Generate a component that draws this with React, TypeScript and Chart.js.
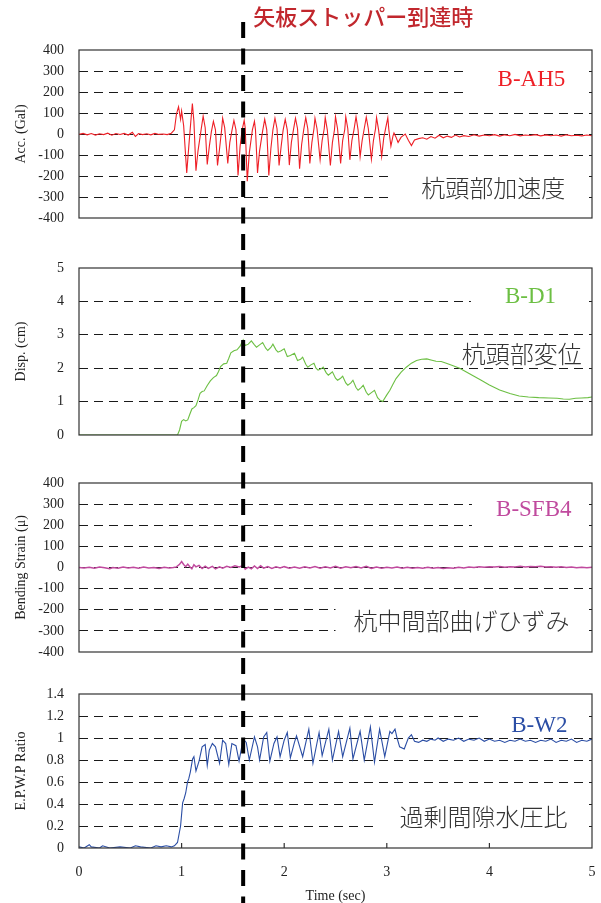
import React, { useEffect, useRef } from 'react';
import { Chart, registerables } from 'chart.js';

Chart.register(...registerables);

// ---------------- data ----------------
const accTime = [
  0.00, 0.04, 0.08, 0.12, 0.16, 0.20, 0.24, 0.28, 0.32, 0.36, 0.40, 0.44, 0.48, 0.52, 0.55, 0.58, 0.62, 0.66, 0.70, 0.74,
  0.78, 0.82, 0.86, 0.90, 0.93, 0.95, 0.97, 0.99, 1.00, 1.02, 1.05, 1.07, 1.09, 1.105, 1.12, 1.14, 1.16, 1.19, 1.21, 1.23,
  1.25, 1.27, 1.29, 1.31, 1.33, 1.35, 1.37, 1.39, 1.40, 1.42, 1.45, 1.47, 1.49, 1.51, 1.53, 1.55, 1.57, 1.59, 1.61, 1.62,
  1.64, 1.66, 1.69, 1.71, 1.72, 1.74, 1.76, 1.79, 1.81, 1.83, 1.85, 1.87, 1.89, 1.91, 1.93, 1.95, 1.97, 1.99, 2.01, 2.03,
  2.05, 2.07, 2.09, 2.11, 2.13, 2.15, 2.17, 2.19, 2.21, 2.23, 2.25, 2.27, 2.29, 2.30, 2.32, 2.35, 2.37, 2.39, 2.40, 2.42,
  2.45, 2.47, 2.49, 2.50, 2.52, 2.55, 2.57, 2.59, 2.60, 2.62, 2.64, 2.66, 2.68, 2.70, 2.72, 2.74, 2.76, 2.78, 2.80, 2.82,
  2.85, 2.87, 2.89, 2.90, 2.92, 2.95, 2.97, 2.99, 3.01, 3.02, 3.04, 3.06, 3.07, 3.09, 3.11, 3.14, 3.18, 3.21, 3.24, 3.27,
  3.31, 3.35, 3.39, 3.43, 3.47, 3.51, 3.55, 3.59, 3.63, 3.67, 3.71, 3.75, 3.80, 3.85, 3.90, 3.95, 4.00, 4.05, 4.10, 4.15,
  4.20, 4.25, 4.30, 4.35, 4.40, 4.45, 4.50, 4.55, 4.60, 4.65, 4.70, 4.75, 4.80, 4.85, 4.90, 4.95, 5.00,
];
const accValues = [
  -2, 3, -4, 2, -5, 1, -3, 4, -6, 2, -2, 3, -5, 8, -12, 2, -3, 1, -4, 3,
  -2, 0, -3, 4, 20, 95, 130, 70, 110, 40, -185, -60, 60, 145, 60, -175, -80, 20, 85, 30,
  -145, -60, 10, 60, 20, -150, -70, 20, 75, 30, -140, -40, 15, 65, 20, -198, -60, 20, 65, 30,
  -225, -90, 20, 60, 20, -185, -80, 15, 70, 20, -198, -70, 20, 75, 25, -150, -60, 20, 70, 20,
  -148, -40, 20, 75, 25, -165, -50, 20, 78, 25, -140, -40, 25, 75, 25, -123, -30, 25, 78, 20,
  -150, -40, 20, 82, 25, -140, -30, 20, 82, 25, -123, -30, 20, 82, 20, -108, -30, 25, 80, 25,
  -120, -30, 25, 78, 20, -108, -20, 30, 77, 20, -58, -10, 5, -15, -40, -15, 0, -30, -55, -28,
  -22, -18, -25, -12, -20, -6, -18, -10, -16, -5, -14, -8, -12, -4, -10, -5, -8, -3, -10, -4,
  -8, -2, -9, -5, -7, -3, -9, -4, -8, -5, -10, -4, -8, -6, -9, -5, -8,
];

const dispTime = [
  0.00, 0.50, 0.96, 0.98, 1.00, 1.02, 1.04, 1.06, 1.08, 1.10, 1.12, 1.14, 1.16, 1.18, 1.20, 1.22, 1.25, 1.28, 1.31, 1.34,
  1.36, 1.38, 1.41, 1.44, 1.46, 1.48, 1.51, 1.54, 1.57, 1.60, 1.62, 1.65, 1.68, 1.71, 1.73, 1.76, 1.79, 1.82, 1.84, 1.87,
  1.89, 1.92, 1.94, 1.97, 2.00, 2.03, 2.06, 2.10, 2.13, 2.16, 2.18, 2.21, 2.23, 2.26, 2.29, 2.31, 2.33, 2.36, 2.38, 2.41,
  2.43, 2.45, 2.47, 2.50, 2.52, 2.55, 2.57, 2.60, 2.62, 2.65, 2.67, 2.70, 2.72, 2.75, 2.77, 2.80, 2.82, 2.85, 2.88, 2.91,
  2.93, 2.96, 3.00, 3.03, 3.06, 3.09, 3.14, 3.19, 3.24, 3.29, 3.34, 3.39, 3.44, 3.48, 3.53, 3.58, 3.64, 3.71, 3.78, 3.85,
  3.92, 4.00, 4.10, 4.20, 4.29, 4.38, 4.48, 4.58, 4.66, 4.72, 4.78, 4.84, 4.90, 4.96, 5.00,
];
const dispValues = [
  0, 0, 0, 0.15, 0.41, 0.46, 0.42, 0.45, 0.62, 0.78, 0.82, 0.88, 1.05, 1.25, 1.30, 1.32, 1.48, 1.62, 1.72, 1.78,
  1.90, 2.05, 2.13, 2.15, 2.30, 2.46, 2.52, 2.55, 2.66, 2.85, 2.68, 2.72, 2.82, 2.70, 2.63, 2.70, 2.77, 2.60, 2.53, 2.62,
  2.72, 2.55, 2.48, 2.52, 2.58, 2.35, 2.38, 2.45, 2.23, 2.27, 2.33, 2.12, 2.03, 2.10, 2.15, 2.00, 1.94, 1.98, 2.03, 1.86,
  1.79, 1.84, 1.89, 1.70, 1.64, 1.70, 1.76, 1.56, 1.49, 1.56, 1.64, 1.42, 1.34, 1.42, 1.49, 1.28, 1.20, 1.27, 1.34, 1.12,
  1.05, 1.00, 1.20, 1.34, 1.52, 1.69, 1.88, 2.03, 2.15, 2.23, 2.27, 2.28, 2.24, 2.21, 2.20, 2.15, 2.08, 2.00, 1.88, 1.76,
  1.64, 1.50, 1.35, 1.24, 1.17, 1.14, 1.12, 1.11, 1.10, 1.08, 1.07, 1.10, 1.11, 1.12, 1.14,
];

const strainTime = [
  0.00, 0.05, 0.10, 0.15, 0.20, 0.25, 0.30, 0.33, 0.38, 0.43, 0.48, 0.53, 0.58, 0.63, 0.68, 0.73, 0.78, 0.83, 0.88, 0.92,
  0.95, 0.98, 1.00, 1.02, 1.04, 1.06, 1.08, 1.10, 1.12, 1.14, 1.17, 1.20, 1.23, 1.26, 1.30, 1.33, 1.37, 1.40, 1.44, 1.48,
  1.52, 1.56, 1.60, 1.62, 1.65, 1.68, 1.71, 1.74, 1.77, 1.80, 1.84, 1.88, 1.92, 1.96, 2.00, 2.05, 2.10, 2.15, 2.20, 2.25,
  2.30, 2.35, 2.40, 2.45, 2.50, 2.55, 2.60, 2.65, 2.70, 2.75, 2.80, 2.85, 2.90, 2.95, 3.00, 3.05, 3.10, 3.15, 3.20, 3.25,
  3.30, 3.35, 3.40, 3.45, 3.50, 3.55, 3.60, 3.65, 3.70, 3.75, 3.80, 3.85, 3.90, 3.95, 4.00, 4.05, 4.10, 4.15, 4.20, 4.25,
  4.30, 4.35, 4.40, 4.45, 4.50, 4.55, 4.60, 4.65, 4.70, 4.75, 4.80, 4.85, 4.90, 4.95, 5.00,
];
const strainValues = [
  0, -2, 1, -3, 2, -1, -6, 0, -3, 2, -2, 1, -4, 2, -2, 0, -5, 1, -2, 0,
  3, 15, 28, 14, 4, 16, 4, -6, 13, 3, 10, -5, 6, -4, 5, -7, 3, -3, 6, 0,
  8, 3, 9, -8, 2, -6, 7, -5, 8, -3, 4, -4, 3, -2, 4, -3, 2, -4, 3, -2,
  5, -3, 4, -2, 6, -3, 4, -1, 5, -2, 6, -4, 2, -3, 1, -2, 2, -3, 1, -4,
  0, -3, 1, -4, 0, -5, -1, -4, 1, -2, 2, 0, 3, 1, 4, 2, 5, 1, 4, 2,
  6, 2, 5, 3, 6, 2, 4, 1, 3, 0, 2, -1, 1, -1, 1,
];

const epTime = [
  0.00, 0.05, 0.10, 0.12, 0.20, 0.23, 0.30, 0.40, 0.50, 0.55, 0.60, 0.70, 0.75, 0.80, 0.85, 0.90, 0.93, 0.96, 0.99, 1.01,
  1.025, 1.04, 1.058, 1.07, 1.085, 1.107, 1.12, 1.14, 1.17, 1.20, 1.23, 1.25, 1.27, 1.30, 1.33, 1.37, 1.40, 1.43, 1.46, 1.49,
  1.53, 1.56, 1.60, 1.63, 1.66, 1.71, 1.74, 1.76, 1.80, 1.83, 1.86, 1.90, 1.93, 1.96, 2.00, 2.03, 2.06, 2.10, 2.12, 2.18,
  2.24, 2.28, 2.34, 2.37, 2.435, 2.47, 2.53, 2.57, 2.64, 2.67, 2.74, 2.78, 2.84, 2.88, 2.93, 2.98, 3.03, 3.05, 3.08, 3.10,
  3.125, 3.17, 3.21, 3.24, 3.27, 3.31, 3.35, 3.39, 3.43, 3.47, 3.50, 3.55, 3.60, 3.65, 3.70, 3.75, 3.80, 3.85, 3.90, 3.95,
  4.00, 4.05, 4.10, 4.15, 4.20, 4.25, 4.30, 4.35, 4.40, 4.45, 4.50, 4.55, 4.60, 4.65, 4.70, 4.75, 4.80, 4.85, 4.90, 4.95, 5.00,
];
const epValues = [
  0.01, 0.00, 0.03, 0.01, 0.00, 0.02, 0.00, 0.01, 0.00, 0.02, 0.01, 0.00, 0.02, 0.01, 0.02, 0.01, 0.02, 0.05, 0.20, 0.41,
  0.45, 0.50, 0.60, 0.63, 0.69, 0.81, 0.83, 0.70, 0.79, 0.92, 0.94, 0.75, 0.89, 0.95, 0.92, 0.77, 0.98, 0.95, 0.76, 0.95,
  0.93, 0.79, 0.99, 0.96, 0.80, 1.01, 0.92, 0.80, 1.01, 1.05, 0.79, 0.95, 1.01, 0.83, 0.98, 1.05, 0.82, 0.96, 1.02, 0.83,
  1.08, 0.77, 1.05, 0.84, 1.08, 0.80, 1.06, 0.83, 1.09, 0.81, 1.06, 0.80, 1.10, 0.78, 1.08, 0.83, 1.06, 1.04, 1.08, 1.00,
  0.92, 0.90, 1.00, 1.03, 0.97, 0.96, 0.98, 0.97, 0.99, 0.98, 1.00, 0.97, 0.99, 0.98, 1.00, 0.97, 0.99, 0.98, 1.00, 0.97,
  0.99, 0.97, 0.98, 0.96, 0.98, 0.97, 0.99, 0.97, 0.98, 0.96, 0.98, 0.97, 0.99, 0.96, 0.98, 0.97, 0.99, 0.96, 0.98, 0.97, 0.99,
];

const axisTitles = ['Acc. (Gal)', 'Disp. (cm)', 'Bending Strain (μ)', 'E.P.W.P Ratio'];
const gaugeNames = ['B-AH5', 'B-D1', 'B-SFB4', 'B-W2'];
const panelNames = ['杭頭部加速度', '杭頭部変位', '杭中間部曲げひずみ', '過剰間隙水圧比'];
const eventTime = 1.6;
const eventLabel = '矢板ストッパー到達時';
const timeTitle = 'Time (sec)';

// ---------------- layout / style ----------------
const W = 601;
const H = 903;
const PLOT_LEFT = 79;
const SERIF = '"Liberation Serif", "Times New Roman", serif';
const JP = '"Noto Sans CJK JP", "Noto Sans", sans-serif';
const INK = '#222';

type Panel = {
  id: string; time: number[]; values: number[]; min: number; max: number; step: number; weight: number;
  color: string; width: number; title: string; tag: string; name: string;
  tagAt: [number, number]; nameAt: [number, number];
  boxes: [number, number, number, number][];
  fmt: (v: number) => string;
};

const PANELS: Panel[] = [
  {
    id: 'yAcc', time: accTime, values: accValues, min: -400, max: 400, step: 100, weight: 168,
    color: '#ee1f26', width: 1.1, title: axisTitles[0], tag: gaugeNames[0], name: panelNames[0],
    tagAt: [4.74, 258], nameAt: [4.74, -255],
    boxes: [[3.8, 4.96, 160, 350], [3.05, 4.96, -350, -150]],
    fmt: (v) => String(v),
  },
  {
    id: 'yDisp', time: dispTime, values: dispValues, min: 0, max: 5, step: 1, weight: 167,
    color: '#6cbf43', width: 1.1, title: axisTitles[1], tag: gaugeNames[1], name: panelNames[1],
    tagAt: [4.65, 4.13], nameAt: [4.9, 2.43],
    boxes: [[3.82, 4.96, 3.55, 4.7]],
    fmt: (v) => String(v),
  },
  {
    id: 'yStrain', time: strainTime, values: strainValues, min: -400, max: 400, step: 100, weight: 169,
    color: '#c04a9e', width: 1.5, title: axisTitles[2], tag: gaugeNames[2], name: panelNames[2],
    tagAt: [4.8, 274], nameAt: [4.78, -255],
    boxes: [[3.83, 4.96, 150, 350], [2.5, 4.96, -350, -150]],
    fmt: (v) => String(v),
  },
  {
    id: 'yEp', time: epTime, values: epValues, min: 0, max: 1.4, step: 0.2, weight: 154,
    color: '#2b4ea5', width: 1.1, title: axisTitles[3], tag: gaugeNames[3], name: panelNames[3],
    tagAt: [4.76, 1.11], nameAt: [4.76, 0.28],
    boxes: [[3.9, 4.96, 1.05, 1.32], [2.89, 4.96, 0.1, 0.5]],
    fmt: (v) => String(Math.round(v * 10) / 10),
  },
];
const GAPS = [50, 48, 42];

function panelAxis(p: Panel) {
  return {
    type: 'linear', position: 'left', stack: 'panels', stackWeight: p.weight,
    min: p.min, max: p.max,
    afterFit: (s: any) => { s.width = PLOT_LEFT; },
    grid: {
      display: true, drawTicks: false, lineWidth: 1,
      color: (c: any) => {
        const v = c.tick ? c.tick.value : 0;
        return Math.abs(v - p.min) < 1e-9 || Math.abs(v - p.max) < 1e-9 ? 'rgba(0,0,0,0)' : '#1a1a1a';
      },
    },
    border: { display: false, dash: [9, 6] },
    ticks: {
      stepSize: p.step, padding: 15, autoSkip: false, color: INK,
      font: { family: SERIF, size: 14 },
      callback: (v: any) => p.fmt(Number(v)),
    },
    title: {
      display: true, text: p.title, color: INK,
      font: { family: SERIF, size: 14 }, padding: { top: 13, bottom: 0 },
    },
  };
}

function gapAxis(weight: number) {
  return {
    type: 'linear', position: 'left', stack: 'panels', stackWeight: weight, display: true,
    afterFit: (s: any) => { s.width = PLOT_LEFT; },
    grid: { display: false }, border: { display: false }, ticks: { display: false },
    title: { display: false },
  };
}

const decor = {
  id: 'decor',
  beforeDatasetsDraw(chart: any) {
    const ctx = chart.ctx;
    const xs = chart.scales.x;
    ctx.save();
    for (const p of PANELS) {
      const ys = chart.scales[p.id];
      ctx.fillStyle = '#ffffff';
      for (const b of p.boxes) {
        const x0 = xs.getPixelForValue(b[0]);
        const x1 = xs.getPixelForValue(b[1]);
        const y0 = ys.getPixelForValue(b[3]);
        const y1 = ys.getPixelForValue(b[2]);
        ctx.fillRect(x0, y0, x1 - x0, y1 - y0);
      }
      ctx.textAlign = 'right';
      ctx.textBaseline = 'middle';
      ctx.fillStyle = p.color;
      ctx.font = `23px ${SERIF}`;
      ctx.fillText(p.tag, xs.getPixelForValue(p.tagAt[0]), ys.getPixelForValue(p.tagAt[1]));
      ctx.fillStyle = '#333';
      ctx.font = `300 24px ${JP}`;
      ctx.fillText(p.name, xs.getPixelForValue(p.nameAt[0]), ys.getPixelForValue(p.nameAt[1]));
    }
    ctx.restore();
  },
  afterDatasetsDraw(chart: any) {
    const ctx = chart.ctx;
    const { left, right } = chart.chartArea;
    const xs = chart.scales.x;
    ctx.save();
    ctx.strokeStyle = '#333';
    ctx.lineWidth = 1.2;
    for (const p of PANELS) {
      const ys = chart.scales[p.id];
      ctx.strokeRect(left, ys.top, right - left, ys.bottom - ys.top);
    }
    const last = chart.scales[PANELS[PANELS.length - 1].id];
    ctx.beginPath();
    for (const t of xs.ticks) {
      const x = xs.getPixelForValue(t.value);
      if (x <= left + 1 || x >= right - 1) continue;
      ctx.moveTo(x, last.bottom);
      ctx.lineTo(x, last.bottom - 5);
    }
    ctx.stroke();
    ctx.restore();
  },
  afterDraw(chart: any) {
    const ctx = chart.ctx;
    const xs = chart.scales.x;
    const x = xs.getPixelForValue(eventTime);
    ctx.save();
    ctx.strokeStyle = '#000';
    ctx.lineWidth = 4;
    ctx.setLineDash([16, 10.5]);
    ctx.beginPath();
    ctx.moveTo(x, 22);
    ctx.lineTo(x, H);
    ctx.stroke();
    ctx.setLineDash([]);
    ctx.fillStyle = '#c1272d';
    ctx.font = `500 22px ${JP}`;
    ctx.textAlign = 'left';
    ctx.textBaseline = 'middle';
    ctx.fillText(eventLabel, x + 10, 17);
    ctx.restore();
  },
};

export default function App() {
  const ref = useRef<HTMLCanvasElement | null>(null);

  useEffect(() => {
    document.body.style.margin = '0';
    const canvas = ref.current;
    if (!canvas) return;

    const scales: any = {
      x: {
        type: 'linear', position: 'bottom', min: 0, max: 5,
        afterFit: (s: any) => { s.height = 55; },
        grid: { display: true, drawOnChartArea: false, drawTicks: true, tickLength: 16, tickColor: 'rgba(0,0,0,0)' },
        border: { display: false },
        ticks: { stepSize: 1, padding: 0, color: INK, font: { family: SERIF, size: 14 }, callback: (v: any) => String(v) },
        title: { display: true, text: timeTitle, color: INK, font: { family: SERIF, size: 14, lineHeight: 1 }, padding: { top: 0, bottom: 0 } },
      },
    };
    // bottom panel first: left-stacked axes are laid out in reverse order
    const order = [3, 2, 1, 0];
    order.forEach((pi, k) => {
      scales[PANELS[pi].id] = panelAxis(PANELS[pi]);
      if (k < 3) scales['gap' + k] = gapAxis(GAPS[2 - k]);
    });

    const chart = new Chart(canvas, {
      type: 'line',
      data: {
        datasets: PANELS.map((p) => ({
          label: p.tag,
          yAxisID: p.id,
          data: p.time.map((t, i) => ({ x: t, y: p.values[i] })),
          borderColor: p.color,
          borderWidth: p.width,
          pointRadius: 0,
          tension: 0,
          fill: false,
        })),
      },
      options: {
        responsive: false,
        animation: false,
        devicePixelRatio: 1,
        layout: { padding: { top: 50, left: 0, right: 9, bottom: 0 } },
        plugins: { legend: { display: false }, title: { display: false }, tooltip: { enabled: false } },
        scales,
      } as any,
      plugins: [decor],
    });
    return () => chart.destroy();
  }, []);

  return (
    <div style={{ position: 'fixed', left: 0, top: 0, width: W, height: H, background: '#fff' }}>
      <canvas ref={ref} width={W} height={H} style={{ width: W, height: H, display: 'block' }} />
    </div>
  );
}
